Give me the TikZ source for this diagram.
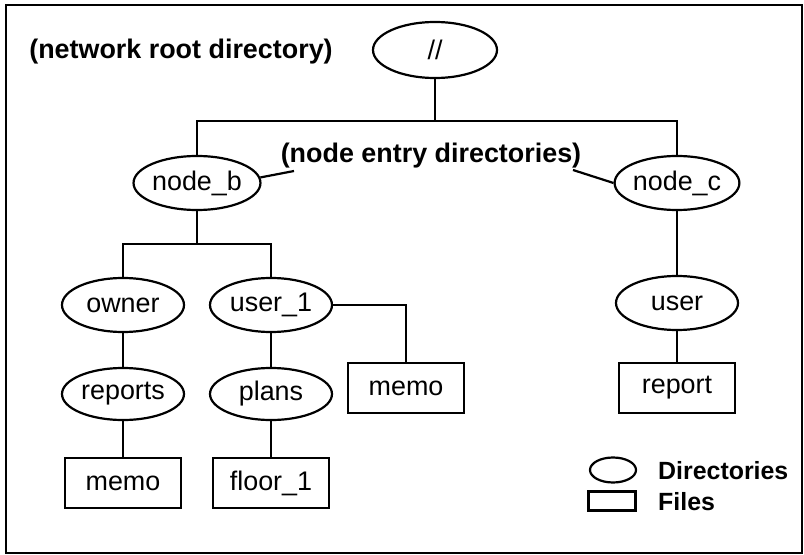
\documentclass[tikz,border=0pt]{standalone}
\usepackage{fontspec}
\setmainfont{Liberation Sans}
\usetikzlibrary{shapes.geometric}

% Stile für Verzeichnisse und Dateien
\tikzset{
    ordner/.style={draw, ellipse, line width=2.2bp, fill=white, inner sep=0pt,
        minimum width=122bp, minimum height=54bp, font=\fontsize{27}{30}\selectfont},
    datei/.style={draw, rectangle, line width=2.2bp, fill=white, inner sep=0pt,
        minimum width=116bp, minimum height=50bp, font=\fontsize{27}{30}\selectfont},
    hinweis/.style={inner sep=0pt, font=\fontsize{27}{30}\selectfont\bfseries},
    legende/.style={inner sep=0pt, font=\fontsize{25}{28}\selectfont\bfseries},
    kante/.style={line width=2.2bp},
}

\begin{document}
\begin{tikzpicture}[x=1bp, y=-1bp]
                % Bildgröße wie Vorlage
                \useasboundingbox (0,0) rectangle (804,555);
                \draw[line width=2.2bp] (6,5) rectangle (802,553);

                % Knoten
                \node[ordner, minimum width=124bp, minimum height=56bp] (root) at (435,50) {//};
                \node[hinweis] (netz) at (181,52) {(network root directory)};

                \node[ordner] (nodeb) at (197,183) {node\_b};
                \node[ordner, minimum width=124bp] (nodec) at (677,183) {node\_c};
                \node[hinweis] (eintrag) at (431,156) {(node entry directories)};

                \node[ordner] (owner) at (123,305) {owner};
                \node[ordner] (user1) at (271,305) {user\_1};
                \node[ordner] (user) at (677,303) {user};

                \node[ordner, minimum height=52bp] (reports) at (123,394) {reports};
                \node[ordner, minimum height=52bp] (plans) at (271,394) {plans};

                \node[datei] (memob) at (406,388) {memo};
                \node[datei] (report) at (677,388) {report};
                \node[datei] (memoa) at (123,483) {memo};
                \node[datei] (floor) at (271,483) {floor\_1};

                % Baumkanten
                \draw[kante] (root.south) -- ++(0,42) -| (nodeb.north);
                \draw[kante] (root.south) -- ++(0,42) -| (nodec.north);
                \draw[kante] (nodeb.south) -- ++(0,33) -| (owner.north);
                \draw[kante] (nodeb.south) -- ++(0,33) -| (user1.north);
                \draw[kante] (user1.east) -| (memob.north);
                \foreach \a/\b in {owner/reports, reports/memoa, user1/plans, plans/floor, nodec/user, user/report} {
                    \draw[kante] (\a.south) -- (\b.north);
                }

                % Hinweislinien zur Beschriftung
                \coordinate (hb) at (294,171);
                \coordinate (hc) at (573,170);
                \draw[kante] (nodeb.5) -- (hb);
                \draw[kante] (nodec.180) -- (hc);

                % Legende
                \node[ordner, minimum width=46bp, minimum height=25bp] (lo) at (613,470) {};
                \node[datei, minimum width=47bp, minimum height=19bp] (ld) at (612,501) {};
                \node[legende, anchor=west] (lot) at (658,471) {Directories};
                \node[legende, anchor=west] (ldt) at (658,502) {Files};
            \end{tikzpicture}
\end{document}
